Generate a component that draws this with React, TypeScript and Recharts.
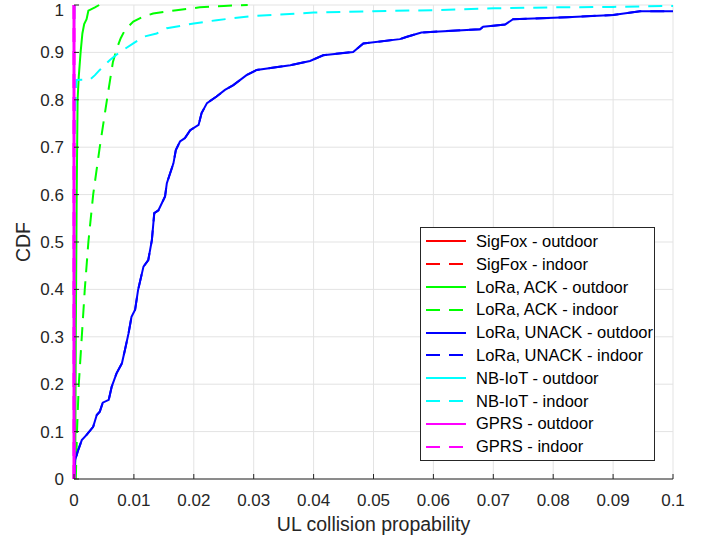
import React from 'react';
import { LineChart, Line, XAxis, YAxis, CartesianGrid, Legend } from 'recharts';

// ---- data (x = UL collision probability, y = CDF) ----
const sigfoxOutdoor: [number, number][] = [[0, 0], [0, 1]];
const sigfoxIndoor: [number, number][] = [[0, 0], [0, 1]];

const loraAckOutdoor: [number, number][] = [
  [0.0002, 0], [0.0003, 0.3], [0.00045, 0.6], [0.0006, 0.8], [0.0008, 0.85],
  [0.0011, 0.9], [0.0014, 0.94], [0.0017, 0.96], [0.0021, 0.97], [0.0024, 0.988],
  [0.003, 0.992], [0.0035, 0.995], [0.0042, 1.0],
];

const loraAckIndoor: [number, number][] = [
  [0.0003, 0], [0.0005, 0.1], [0.0008, 0.2], [0.0013, 0.3], [0.0018, 0.4],
  [0.0024, 0.5], [0.0032, 0.6], [0.0043, 0.7], [0.0055, 0.8], [0.0065, 0.88],
  [0.0072, 0.91], [0.0078, 0.93], [0.0085, 0.947], [0.0099, 0.965], [0.0115, 0.975],
  [0.0132, 0.982], [0.0171, 0.989], [0.021, 0.995], [0.025, 0.998], [0.029, 1],
];

const loraUnackOutdoor: [number, number][] = [
  [0, 0], [0.0002, 0.04], [0.0007, 0.061], [0.0013, 0.082], [0.0021, 0.093],
  [0.0032, 0.11], [0.0038, 0.135], [0.0043, 0.142], [0.0048, 0.161], [0.0058, 0.167],
  [0.0063, 0.195], [0.0071, 0.223], [0.008, 0.244], [0.0085, 0.272], [0.0091, 0.307],
  [0.0096, 0.342], [0.0102, 0.357], [0.0107, 0.399], [0.0116, 0.448], [0.0124, 0.462],
  [0.013, 0.504], [0.0134, 0.561], [0.0141, 0.567], [0.0152, 0.596], [0.0155, 0.624],
  [0.0166, 0.666], [0.017, 0.694], [0.0177, 0.712], [0.0185, 0.719], [0.0194, 0.736],
  [0.0208, 0.747], [0.0213, 0.772], [0.0222, 0.793], [0.0238, 0.807], [0.0252, 0.821],
  [0.0266, 0.831], [0.0288, 0.852], [0.0305, 0.863], [0.0361, 0.873], [0.0394, 0.882],
  [0.0416, 0.894], [0.0466, 0.901], [0.0483, 0.919], [0.0544, 0.928], [0.0556, 0.933],
  [0.058, 0.942], [0.0678, 0.949], [0.0683, 0.954], [0.072, 0.959], [0.0733, 0.97],
  [0.0823, 0.974], [0.09, 0.979], [0.0945, 0.987], [0.1, 0.987],
];
const loraUnackIndoor: [number, number][] = loraUnackOutdoor;

const nbIotOutdoor: [number, number][] = [[0, 0], [0, 0.95], [0.0001, 1]];
const nbIotIndoor: [number, number][] = [
  [0, 0], [0, 0.7], [0.0002, 0.78], [0.0004, 0.842], [0.0027, 0.843], [0.0035, 0.852],
  [0.0043, 0.863], [0.006, 0.884], [0.0077, 0.901], [0.0099, 0.919], [0.0116, 0.933],
  [0.0138, 0.94], [0.0155, 0.951], [0.02, 0.961], [0.0238, 0.968], [0.03, 0.977],
  [0.04, 0.984], [0.05, 0.987], [0.06, 0.989], [0.07, 0.993], [0.08, 0.995],
  [0.09, 0.996], [0.1, 0.998],
];

const gprsOutdoor: [number, number][] = [[0, 0], [0, 1]];
const gprsIndoor: [number, number][] = [[0, 0], [0, 1]];

const xTicks = [0, 0.01, 0.02, 0.03, 0.04, 0.05, 0.06, 0.07, 0.08, 0.09, 0.1];
const yTicks = [0, 0.1, 0.2, 0.3, 0.4, 0.5, 0.6, 0.7, 0.8, 0.9, 1];

const seriesNames = [
  'SigFox - outdoor', 'SigFox - indoor',
  'LoRa, ACK - outdoor', 'LoRa, ACK - indoor',
  'LoRa, UNACK - outdoor', 'LoRa, UNACK - indoor',
  'NB-IoT - outdoor', 'NB-IoT - indoor',
  'GPRS - outdoor', 'GPRS - indoor',
];
const seriesData = [
  sigfoxOutdoor, sigfoxIndoor, loraAckOutdoor, loraAckIndoor,
  loraUnackOutdoor, loraUnackIndoor, nbIotOutdoor, nbIotIndoor,
  gprsOutdoor, gprsIndoor,
];
const seriesColors = [
  '#ff0000', '#ff0000', '#00ff00', '#00ff00', '#0000ff', '#0000ff',
  '#00ffff', '#00ffff', '#ff00ff', '#ff00ff',
];
const seriesDashed = [false, true, false, true, false, true, false, true, false, true];

const FONT = '"Liberation Sans", Arial, Helvetica, sans-serif';
const AXIS = '#262626';
const DASH = '14 9';

const toPoints = (arr: [number, number][]) => arr.map(([x, y]) => ({ x, y }));

const LegendBox = () => (
  <div
    style={{
      width: 233,
      height: 230,
      border: `1px solid ${AXIS}`,
      background: '#fff',
      boxSizing: 'content-box',
      paddingTop: 2,
      fontFamily: FONT,
      fontSize: 16.5,
      color: '#000',
    }}
  >
    {seriesNames.map((name, i) => (
      <div key={name} style={{ height: 22.8, display: 'flex', alignItems: 'center' }}>
        <svg width={50} height={10} style={{ marginLeft: 5, flex: 'none' }}>
          <line
            x1={0}
            x2={40}
            y1={5}
            y2={5}
            stroke={seriesColors[i]}
            strokeWidth={2}
            strokeDasharray={seriesDashed[i] ? DASH : undefined}
          />
        </svg>
        <span style={{ whiteSpace: 'nowrap', lineHeight: '22.8px' }}>{name}</span>
      </div>
    ))}
  </div>
);

export default function App() {
  return (
    <div style={{ position: 'absolute', left: 0, top: 0, width: 710, height: 540, background: '#fff' }}>
      <LineChart
        width={710}
        height={540}
        margin={{ top: 5, right: 37, bottom: 0, left: 0 }}
        style={{ fontFamily: FONT }}
      >
        <CartesianGrid stroke="#e3e3e3" strokeWidth={1} />
        <XAxis
          dataKey="x"
          type="number"
          domain={[0, 0.1]}
          ticks={xTicks}
          height={61}
          stroke={AXIS}
          tickSize={-5}
          tickMargin={20}
          tick={{ fill: AXIS, fontSize: 17, fontFamily: FONT }}
          tickFormatter={(v: number) => String(v)}
          label={{
            content: () => (
              <text x={373.5} y={531} textAnchor="middle" fill={AXIS} fontSize={19.5} fontFamily={FONT}>
                UL collision propability
              </text>
            ),
          }}
        />
        <XAxis
          xAxisId="top"
          orientation="top"
          type="number"
          domain={[0, 0.1]}
          allowDataOverflow
          ticks={xTicks}
          height={0}
          stroke={AXIS}
          tickSize={-5}
          tick={false}
        />
        <YAxis
          dataKey="y"
          type="number"
          domain={[0, 1]}
          ticks={yTicks}
          width={74}
          stroke={AXIS}
          axisLine={false}
          tickSize={-5}
          tickMargin={15}
          tick={{ fill: AXIS, fontSize: 17, fontFamily: FONT }}
          tickFormatter={(v: number) => String(v)}
          label={{
            content: () => (
              <text
                x={23}
                y={242}
                transform="rotate(-90 23 242)"
                textAnchor="middle"
                dominantBaseline="central"
                fill={AXIS}
                fontSize={19.5}
                fontFamily={FONT}
              >
                CDF
              </text>
            ),
          }}
        />
        <YAxis
          yAxisId="right"
          orientation="right"
          type="number"
          domain={[0, 1]}
          allowDataOverflow
          ticks={yTicks}
          width={0}
          stroke={AXIS}
          tickSize={-5}
          tick={false}
        />
        {seriesData.map((d, i) => (
          <Line
            key={seriesNames[i]}
            name={seriesNames[i]}
            data={toPoints(d)}
            dataKey="y"
            type="linear"
            stroke={seriesColors[i]}
            strokeWidth={i >= 8 ? 3 : 2}
            strokeDasharray={seriesDashed[i] ? DASH : undefined}
            dot={false}
            activeDot={false}
            isAnimationActive={false}
          />
        ))}
        <Legend
          layout="vertical"
          align="center"
          verticalAlign="middle"
          content={() => <LegendBox />}
          wrapperStyle={{ position: 'absolute', left: 420, top: 227, width: 235, height: 233 }}
        />
      </LineChart>
    </div>
  );
}
